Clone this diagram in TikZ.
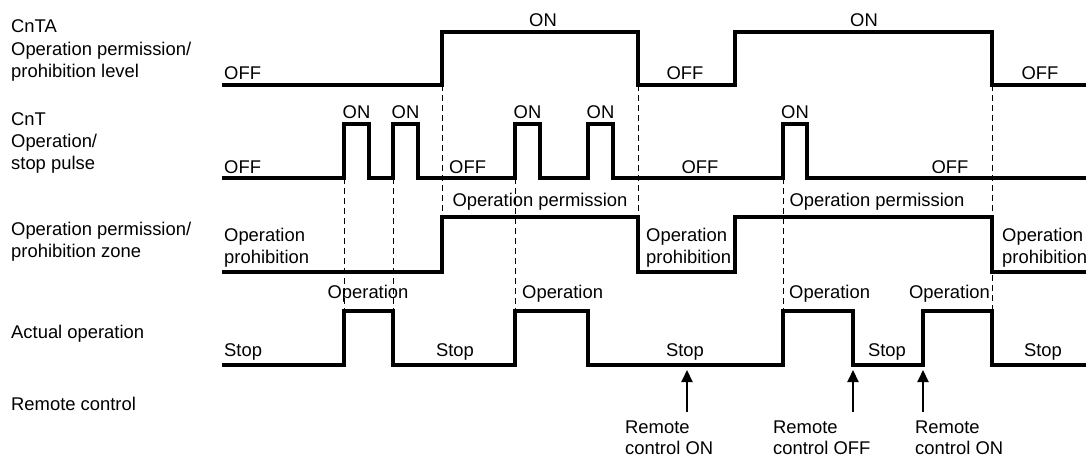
\documentclass[tikz,border=0pt]{standalone}
\usepackage{fontspec}
\setmainfont{Liberation Sans}
\usetikzlibrary{arrows.meta}
\tikzset{
  sig/.style={line width=3.3pt, line join=miter, black},
  guide/.style={line width=0.9pt, dash pattern=on 6pt off 4pt, black},
  ptr/.style={line width=2pt, -{Triangle[length=12pt,width=11pt]}},
  tl/.style={anchor=base west, inner sep=0pt, font=\fontsize{18.4pt}{22pt}\selectfont},
  tc/.style={anchor=base, inner sep=0pt, font=\fontsize{18.4pt}{22pt}\selectfont},
  tr/.style={anchor=base east, inner sep=0pt, font=\fontsize{18.4pt}{22pt}\selectfont}
}
\begin{document}
\begin{tikzpicture}[x=1pt,y=-1pt]
\useasboundingbox (0,0) rectangle (1086,457);
% left labels
\node[tl] (lA1) at (11,33) {CnTA};
\node[tl] (lA2) at (11,56) {Operation permission/};
\node[tl] (lA3) at (11,78) {prohibition level};
\node[tl] (lB1) at (11,126) {CnT};
\node[tl] (lB2) at (11,148) {Operation/};
\node[tl] (lB3) at (11,170) {stop pulse};
\node[tl] (lC1) at (11,235) {Operation permission/};
\node[tl] (lC2) at (11,257) {prohibition zone};
\node[tl] (lD) at (11,338) {Actual operation};
\node[tl] (lE) at (11,410) {Remote control};
% guides
\draw[guide] (344,178) -- (344,311);
\draw[guide] (393,178) -- (393,311);
\draw[guide] (442,85) -- (442,217);
\draw[guide] (638,85) -- (638,217);
\draw[guide] (515,178) -- (515,311);
\draw[guide] (783,178) -- (783,311);
\draw[guide] (992,85) -- (992,311);
% row 1
\draw[sig] (222,85) -- (442,85) -- (442,32) -- (638,32) -- (638,85) -- (735,85) -- (735,32) -- (992,32) -- (992,85) -- (1087,85);
\node[tl] (a1) at (224,80) {OFF};
\node[tc] (a2) at (543,27) {ON};
\node[tc] (a3) at (685,80) {OFF};
\node[tc] (a4) at (864,27) {ON};
\node[tc] (a5) at (1040,80) {OFF};
% row 2
\draw[sig] (222,178) -- (344,178) -- (344,124) -- (369,124) -- (369,178) -- (393,178) -- (393,124) -- (418,124) -- (418,178) -- (515,178) -- (515,124) -- (540,124) -- (540,178) -- (588,178) -- (588,124) -- (613,124) -- (613,178) -- (783,178) -- (783,124) -- (807,124) -- (807,178) -- (1087,178);
\node[tc] (b1) at (356.5,119) {ON};
\node[tc] (b2) at (405.5,119) {ON};
\node[tc] (b3) at (527.5,119) {ON};
\node[tc] (b4) at (600.5,119) {ON};
\node[tc] (b5) at (795,119) {ON};
\node[tl] (b6) at (224,174) {OFF};
\node[tl] (b7) at (449,174) {OFF};
\node[tc] (b8) at (700,174) {OFF};
\node[tc] (b9) at (950,174) {OFF};
% row 3
\draw[sig] (222,272) -- (442,272) -- (442,217) -- (638,217) -- (638,272) -- (735,272) -- (735,217) -- (992,217) -- (992,272) -- (1087,272);
\node[tc] (c1) at (540,206) {Operation permission};
\node[tc] (c2) at (877,207) {Operation permission};
\node[tl] (c3) at (224,241) {Operation};
\node[tl] (c4) at (224,263) {prohibition};
\node[tl] (c5) at (646,241) {Operation};
\node[tl] (c6) at (646,263) {prohibition};
\node[tl] (c7) at (1002,241) {Operation};
\node[tl] (c8) at (1002,263) {prohibition};
% row 4
\draw[sig] (222,365) -- (344,365) -- (344,311) -- (393,311) -- (393,365) -- (515,365) -- (515,311) -- (588,311) -- (588,365) -- (783,365) -- (783,311) -- (853,311) -- (853,365) -- (923,365) -- (923,311) -- (992,311) -- (992,365) -- (1087,365);
\node[tc] (d1) at (368,298) {Operation};
\node[tl] (d2) at (522,298) {Operation};
\node[tl] (d3) at (789,298) {Operation};
\node[tr] (d4) at (990,298) {Operation};
\node[tl] (d5) at (224,356) {Stop};
\node[tc] (d6) at (455,356) {Stop};
\node[tc] (d7) at (685,356) {Stop};
\node[tc] (d8) at (887,356) {Stop};
\node[tc] (d9) at (1043,356) {Stop};
% remote control
\coordinate (r1b) at (687,412); \coordinate (r1t) at (687,370);
\coordinate (r2b) at (853,412); \coordinate (r2t) at (853,370);
\coordinate (r3b) at (923,412); \coordinate (r3t) at (923,370);
\draw[ptr] (r1b) -- (r1t);
\draw[ptr] (r2b) -- (r2t);
\draw[ptr] (r3b) -- (r3t);
\node[tl] (e1) at (625,433) {Remote};
\node[tl] (e2) at (625,454.5) {control ON};
\node[tl] (e3) at (773,433) {Remote};
\node[tl] (e4) at (773,454.5) {control OFF};
\node[tl] (e5) at (915,433) {Remote};
\node[tl] (e6) at (915,454.5) {control ON};
\end{tikzpicture}
\end{document}
